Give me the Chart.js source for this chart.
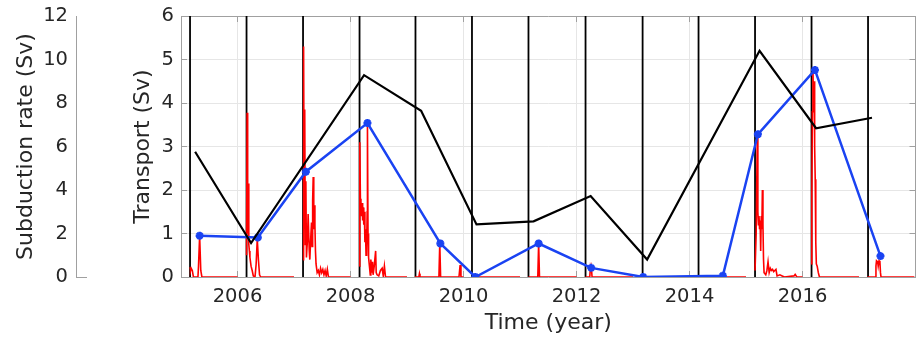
<!DOCTYPE html>
<html>
<head>
<meta charset="utf-8">
<script src="https://cdn.jsdelivr.net/npm/chart.js@4.4.1/dist/chart.umd.min.js"></script>
<style>
  body { margin: 0; background: #fff; }
</style>
</head>
<body>
<canvas id="chart" width="922" height="339"></canvas>
<script>
// x axis ticks (years)
const yearTicks = [2006, 2008, 2010, 2012, 2014, 2016];

// vertical black lines (start of each yearly record)
const vlineX = [2005.16, 2006.16, 2007.16, 2008.16, 2009.15, 2010.15, 2011.15,
                2012.16, 2013.17, 2014.16, 2015.16, 2016.16, 2017.16];

// black transport line
const blackX = [2005.25, 2006.24, 2008.24, 2009.25, 2010.23, 2011.24, 2012.25, 2013.25, 2015.24, 2016.24, 2017.23];
const blackY = [2.88, 0.78, 4.64, 3.82, 1.21, 1.28, 1.86, 0.40, 5.20, 3.42, 3.66];

// blue transport line with markers
const blueX = [2005.33, 2006.36, 2007.21, 2008.30, 2009.59, 2010.21, 2011.33, 2012.26, 2013.18, 2014.59, 2015.21, 2016.22, 2017.38];
const blueY = [0.95, 0.91, 2.42, 3.54, 0.77, 0.0, 0.77, 0.21, 0.0, 0.03, 3.28, 4.76, 0.48];

// red subduction rate (Sv), null = gap between yearly records
const redT = [
  2005.16, 2005.17, 2005.18, 2005.20, 2005.22, 2005.30, 2005.31, 2005.33, 2005.35, 2005.37, 2006.00, 2006.05,
  2006.16, 2006.17, 2006.18, 2006.19, 2006.20, 2006.21, 2006.22, 2006.24, 2006.26, 2006.28, 2006.31, 2006.33, 2006.35, 2006.37, 2006.39, 2006.41, 2007.00, 2007.05,
  2007.16, 2007.17, 2007.18, 2007.19, 2007.20, 2007.21, 2007.22, 2007.24, 2007.25, 2007.27, 2007.28, 2007.30, 2007.31, 2007.32, 2007.33, 2007.34, 2007.35, 2007.36, 2007.37, 2007.38, 2007.39, 2007.41, 2007.43, 2007.45, 2007.47, 2007.49, 2007.51, 2007.53, 2007.55, 2007.57, 2007.59, 2007.61, 2008.00, 2008.05,
  2008.16, 2008.165, 2008.175, 2008.185, 2008.195, 2008.205, 2008.215, 2008.225, 2008.235, 2008.245, 2008.255, 2008.265, 2008.275, 2008.285, 2008.295, 2008.30, 2008.31, 2008.32, 2008.335, 2008.35, 2008.36, 2008.375, 2008.39, 2008.40, 2008.42, 2008.445, 2008.455, 2008.47, 2008.50, 2008.53, 2008.56, 2008.58, 2008.60, 2008.62, 2009.00, 2009.05,
  2009.14, 2009.21, 2009.22, 2009.23, 2009.565, 2009.58, 2009.595, 2009.92, 2009.94, 2009.955, 2010.00, 2010.05,
  2010.15, 2011.00, 2011.05,
  2011.15, 2011.315, 2011.33, 2011.345, 2012.00, 2012.05,
  2012.16, 2012.235, 2012.245, 2012.255, 2012.265, 2012.275, 2013.00, 2013.05,
  2013.17, 2014.00, 2014.05,
  2014.16, 2015.00, 2015.05,
  2015.16, 2015.18, 2015.20, 2015.21, 2015.22, 2015.23, 2015.24, 2015.25, 2015.26, 2015.27, 2015.28, 2015.29, 2015.30, 2015.31, 2015.32, 2015.35, 2015.37, 2015.39, 2015.41, 2015.43, 2015.45, 2015.47, 2015.49, 2015.51, 2015.53, 2015.55, 2015.60, 2015.64, 2015.68, 2015.85, 2015.87, 2015.90, 2016.00, 2016.05,
  2016.155, 2016.165, 2016.175, 2016.185, 2016.195, 2016.205, 2016.215, 2016.225, 2016.235, 2016.245, 2016.26, 2016.28, 2016.30, 2017.00, 2017.05,
  2017.15, 2017.29, 2017.30, 2017.31, 2017.33, 2017.34, 2017.355, 2017.37, 2017.38, 2017.39, 2017.98
];
const redV = [
  0.45, 0.3, 0.4, 0.3, 0.0, 0.0, 0.5, 1.9, 0.3, 0.0, 0.0, null,
  1.0, 7.55, 2.0, 4.3, 1.5, 1.2, 0.9, 0.5, 0.3, 0.05, 0.0, 0.6, 1.75, 0.8, 0.1, 0.0, 0.0, null,
  0.8, 10.6, 3.0, 7.7, 1.5, 4.4, 0.9, 1.8, 2.9, 1.2, 0.8, 2.0, 2.5, 1.4, 3.5, 4.6, 2.2, 3.3, 2.4, 1.2, 0.6, 0.2, 0.3, 0.1, 0.4, 0.2, 0.35, 0.1, 0.3, 0.05, 0.35, 0.0, 0.0, null,
  0.5, 6.2, 3.6, 3.2, 2.8, 3.4, 2.6, 3.2, 2.4, 3.0, 1.6, 2.2, 1.0, 1.4, 3.0, 7.0, 2.0, 0.9, 0.5, 0.1, 0.8, 0.2, 0.7, 0.1, 0.5, 1.2, 0.2, 0.1, 0.05, 0.3, 0.4, 0.05, 0.5, 0.0, 0.0, null,
  0.0, 0.0, 0.15, 0.0, 0.0, 1.55, 0.0, 0.0, 0.55, 0.0, 0.0, null,
  0.0, 0.0, null,
  0.0, 0.0, 1.55, 0.0, 0.0, null,
  0.0, 0.0, 0.4, 0.25, 0.4, 0.0, 0.0, null,
  0.0, 0.0, null,
  0.0, 0.0, null,
  0.3, 2.0, 6.5, 3.0, 2.4, 2.8, 2.2, 2.6, 1.2, 2.8, 2.2, 4.0, 2.4, 0.8, 0.2, 0.1, 0.3, 0.7, 0.2, 0.4, 0.3, 0.35, 0.25, 0.3, 0.35, 0.05, 0.1, 0.05, 0.0, 0.05, 0.12, 0.0, 0.0, null,
  0.6, 3.8, 7.6, 9.5, 8.0, 9.0, 6.0, 4.5, 1.6, 0.6, 0.5, 0.2, 0.0, 0.0, null,
  0.0, 0.0, 0.5, 0.75, 0.7, 0.5, 0.75, 0.7, 0.2, 0.0, 0.0
];

Chart.defaults.font.family = "'DejaVu Sans', sans-serif";
Chart.defaults.color = '#262626';

const axisGray = '#a0a0a0';
const gridGray = '#e6e6e6';
const tickFont = { size: 19.5 };
const titleFont = { size: 22 };

const pts = (xs, ys) => xs.map((x, i) => ({ x: x, y: ys[i] }));
const vlinePts = vlineX.flatMap(x => [{ x: x, y: 0 }, { x: x, y: 6 }, { x: x, y: null }]);
const setYearTicks = scale => { scale.ticks = yearTicks.map(v => ({ value: v })); };
// fixed box size, no extra layout padding from tick labels
const fixWidth = w => s => { s.width = w; s.paddingTop = 0; s.paddingBottom = 0; };
const fixHeight = h => s => { s.height = h; s.paddingLeft = 0; s.paddingRight = 0; };

new Chart(document.getElementById('chart'), {
  type: 'line',
  data: {
    datasets: [
      {
        data: pts(blackX, blackY),
        borderColor: '#000000',
        borderWidth: 2.2,
        pointRadius: 0,
        order: 1
      },
      {
        data: pts(blueX, blueY),
        borderColor: '#1a43f2',
        backgroundColor: '#1a43f2',
        borderWidth: 2.5,
        pointStyle: 'star',
        pointRadius: 4,
        pointBorderWidth: 2.5,
        order: 2
      },
      {
        data: pts(redT, redV),
        yAxisID: 'y2',
        borderColor: '#ff0000',
        borderWidth: 1.6,
        pointRadius: 0,
        order: 3
      },
      {
        data: vlinePts,
        borderColor: '#000000',
        borderWidth: 1.8,
        pointRadius: 0,
        order: 4
      }
    ]
  },
  options: {
    responsive: false,
    animation: false,
    layout: { padding: { top: 16, right: 2, left: 0, bottom: 0 } },
    plugins: { legend: { display: false }, tooltip: { enabled: false } },
    scales: {
      x: {
        type: 'linear',
        position: 'bottom',
        min: 2005,
        max: 2018,
        afterBuildTicks: setYearTicks,
        afterFit: fixHeight(62),
        grid: { color: gridGray, tickColor: axisGray, tickLength: -6 },
        border: { color: axisGray },
        ticks: { font: tickFont, padding: 14, maxRotation: 0, callback: v => String(v) },
        title: { display: true, text: 'Time (year)', font: titleFont, padding: { top: 0, bottom: 3 } }
      },
      xTop: {
        type: 'linear',
        position: 'top',
        min: 2005,
        max: 2018,
        afterBuildTicks: setYearTicks,
        afterFit: fixHeight(0),
        grid: { drawOnChartArea: false, tickColor: axisGray, tickLength: -6 },
        border: { color: axisGray },
        ticks: { display: false }
      },
      y: {
        type: 'linear',
        position: 'left',
        weight: 0,
        min: 0,
        max: 6,
        afterFit: fixWidth(105),
        grid: { color: gridGray, tickColor: axisGray, tickLength: -6 },
        border: { color: axisGray },
        ticks: { font: tickFont, stepSize: 1, padding: 13 },
        title: { display: true, text: 'Transport (Sv)', font: titleFont, padding: { top: 54, bottom: 0 } }
      },
      y2: {
        type: 'linear',
        position: 'left',
        weight: 1,
        min: 0,
        max: 12,
        afterFit: fixWidth(76),
        grid: {
          drawOnChartArea: false,
          tickLength: -11,
          tickColor: ctx => (ctx.tick && ctx.tick.value === 0) ? axisGray : 'rgba(0,0,0,0)'
        },
        border: { color: axisGray },
        ticks: { font: tickFont, stepSize: 2, padding: 19 },
        title: { display: true, text: 'Subduction rate (Sv)', font: titleFont, padding: { top: 13, bottom: 0 } }
      },
      yR: {
        type: 'linear',
        position: 'right',
        min: 0,
        max: 6,
        afterFit: fixWidth(0),
        grid: { drawOnChartArea: false, tickColor: axisGray, tickLength: -6 },
        border: { color: axisGray },
        ticks: { display: false, stepSize: 1 }
      }
    }
  }
});
</script>
</body>
</html>
